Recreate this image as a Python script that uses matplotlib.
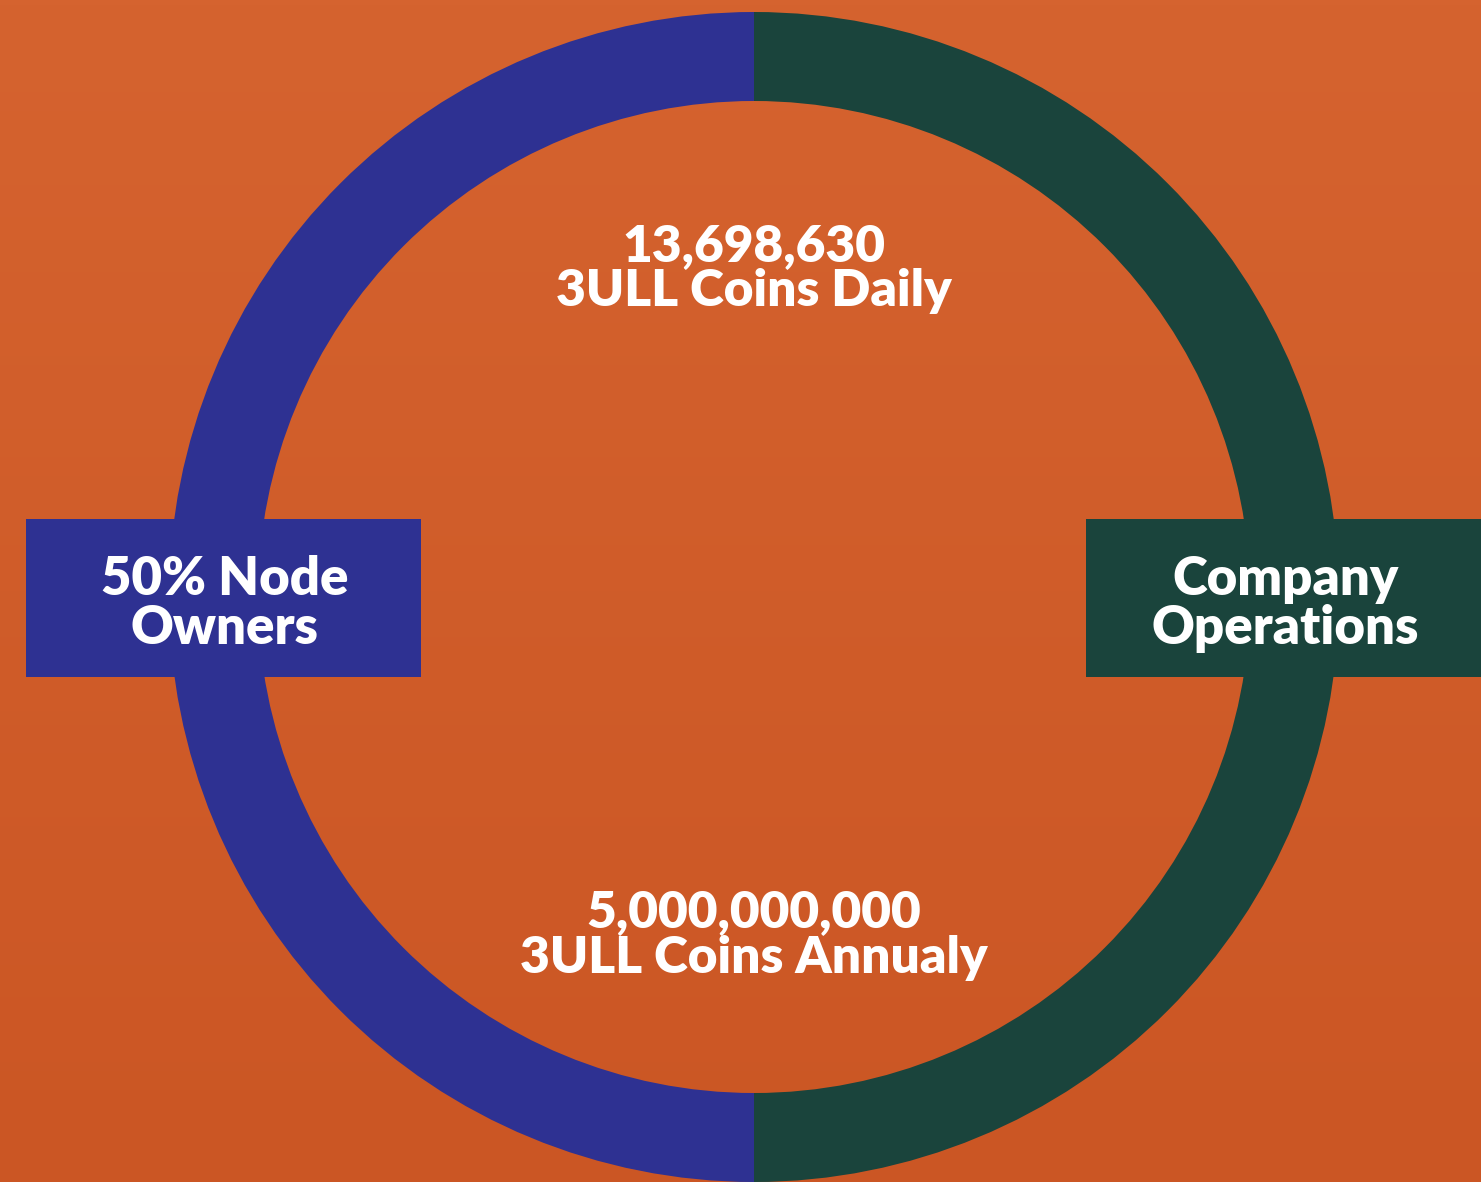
import numpy as np
import matplotlib
matplotlib.use("Agg")
import matplotlib.pyplot as plt
from matplotlib.patches import Rectangle

# Reward split shown as a ring, two halves
shares = [50, 50]
share_names = ["50% Node\nOwners", "Company\nOperations"]
share_colors = ["#2E3192", "#1A443C"]

daily_lines = ["13,698,630", "3ULL Coins Daily"]
annual_lines = ["5,000,000,000", "3ULL Coins Annualy"]

W, H = 1481, 1182
bg = "#D05B28"

fig = plt.figure(figsize=(W / 100, H / 100), dpi=100, facecolor=bg)
ax = fig.add_axes([0, 0, 1, 1])
ax.set_facecolor(bg)

# soft vertical shading of the orange background
grad = np.linspace(0, 1, 256).reshape(-1, 1)
cmap = matplotlib.colors.LinearSegmentedColormap.from_list("bg", ["#CB5624", "#D5632F"])
ax.imshow(grad, extent=[0, W, 0, H], cmap=cmap, aspect="auto", origin="lower", zorder=0)

# ring
cx, cy = 754, H - 597
r_out = 585
r_in = 496
ax.pie(shares, colors=share_colors, startangle=90, counterclock=True,
       radius=r_out, center=(cx, cy),
       wedgeprops=dict(width=r_out - r_in, linewidth=0))

ax.set_xlim(0, W)
ax.set_ylim(0, H)
ax.set_aspect("auto")
ax.axis("off")

# label boxes on both sides
box_y0 = H - 677
box_h = 158
box_x = [26, 1086]
box_w = 395
for i in range(len(shares)):
    ax.add_patch(Rectangle((box_x[i], box_y0), box_w, box_h,
                           facecolor=share_colors[i], edgecolor="none", zorder=5))
    ax.text(box_x[i] + box_w / 2 + (1 if i == 0 else 2), box_y0 + box_h / 2 - 6,
            share_names[i], ha="center", va="center", color="white",
            fontsize=38, fontweight="heavy", family="Lato",
            linespacing=1.0, zorder=6)

font = dict(ha="center", va="baseline", color="white", fontsize=37,
            fontweight="heavy", family="Lato", zorder=6)

# inside the ring
ax.text(cx, H - 261, daily_lines[0], **font)
ax.text(cx, H - 306, daily_lines[1], **font)
ax.text(cx, H - 927, annual_lines[0], **font)
ax.text(cx, H - 973, annual_lines[1], **font)

fig.savefig("out.png", dpi=100, facecolor=bg)
